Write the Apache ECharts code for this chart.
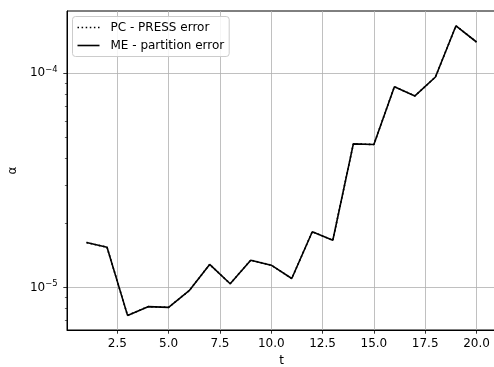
<!DOCTYPE html>
<html>
<head>
<meta charset="utf-8">
<script src="https://cdn.jsdelivr.net/npm/echarts@6/dist/echarts.min.js"></script>
<style>html,body{margin:0;padding:0;background:#fff}#c{width:494px;height:367px}</style>
</head>
<body>
<div id="c"></div>
<script>
const tValues = [1,2,3,4,5,6,7,8,9,10,11,12,13,14,15,16,17,18,19,20];
const meValues = [1.62e-5,1.54e-5,7.40e-6,8.13e-6,8.07e-6,9.65e-6,1.28e-5,1.04e-5,1.34e-5,1.27e-5,1.10e-5,1.82e-5,1.66e-5,4.68e-5,4.65e-5,8.66e-5,7.84e-5,9.61e-5,1.667e-4,1.40e-4];
const pcValues = [1.62e-5,1.54e-5,7.40e-6,8.13e-6,8.07e-6,9.65e-6,1.28e-5,1.04e-5,1.34e-5,1.27e-5,1.10e-5,1.82e-5,1.66e-5,4.68e-5,4.65e-5,8.66e-5,7.84e-5,9.61e-5,1.667e-4,1.40e-4];
const xTicks = [2.5,5,7.5,10,12.5,15,17.5,20];
const yMajorTicks = [1e-5,1e-4];
const yMinorTicks = [7e-6,8e-6,9e-6,2e-5,3e-5,4e-5,5e-5,6e-5,7e-5,8e-5,9e-5];
const seriesNames = ['PC - PRESS error','ME - partition error'];

const FONT = 'DejaVu Sans';
const FS = 12;
const chart = echarts.init(document.getElementById('c'), null, {renderer:'canvas'});
const yMin = 6.324e-6, yMax = 1.954e-4;
const yCommon = {type:'log', min:yMin, max:yMax, logBase:10};
const dottedIcon = 'path://M0 0H1.5V1.6H0Z M4.1 0H5.6V1.6H4.1Z M8.2 0H9.7V1.6H8.2Z M12.3 0H13.8V1.6H12.3Z M16.4 0H17.9V1.6H16.4Z M20.5 0H22V1.6H20.5Z';
const solidIcon = 'path://M0 0H22V1.6H0Z';
chart.setOption({
  animation:false,
  backgroundColor:'#fff',
  grid:{left:67, top:11, width:429, height:319, show:true, borderColor:'#000', borderWidth:1, backgroundColor:'transparent', containLabel:false, outerBoundsMode:'none'},
  legend:{
    left:72.5, top:16.5, orient:'vertical',
    backgroundColor:'rgba(255,255,255,0.85)', borderColor:'#cccccc', borderWidth:1, borderRadius:3,
    padding:[5,5,5,5], itemWidth:22, itemHeight:14, itemGap:6,
    textStyle:{fontSize:FS, color:'#000', fontFamily:FONT, padding:[0,0,0,6]},
    data:[{name:seriesNames[0], icon:dottedIcon}, {name:seriesNames[1], icon:solidIcon}]
  },
  xAxis:{
    type:'value', min:0.05, max:20.95,
    name:'t', nameLocation:'middle', nameGap:25,
    nameTextStyle:{fontSize:FS, color:'#000', fontFamily:FONT},
    axisLine:{show:true, onZero:false, lineStyle:{color:'#000', width:1}},
    axisTick:{show:true, length:3.7, customValues:xTicks, lineStyle:{color:'#000', width:0.8}},
    axisLabel:{customValues:xTicks, margin:8, fontSize:FS, color:'#000', fontFamily:FONT,
      formatter:v=>Number(v).toFixed(1)},
    splitLine:{show:true, lineStyle:{color:'#b0b0b0', width:0.8}}
  },
  yAxis:[
    Object.assign({}, yCommon, {
      name:'α', nameLocation:'middle', nameGap:40, nameRotate:90,
      nameTextStyle:{fontSize:FS, color:'#000', fontFamily:FONT},
      axisLine:{show:true, lineStyle:{color:'#000', width:1}},
      axisTick:{show:true, length:3.7, customValues:yMajorTicks, lineStyle:{color:'#000', width:0.8}},
      axisLabel:{customValues:yMajorTicks, margin:9.5, color:'#000', fontFamily:FONT,
        formatter:v=>'{a|10}{b|−'+Math.abs(Math.round(Math.log10(v)))+'}',
        rich:{a:{fontSize:FS, fontFamily:FONT, color:'#000'}, b:{fontSize:8.4, fontFamily:FONT, color:'#000', padding:[0,0,7,0]}}},
      splitLine:{show:true, lineStyle:{color:'#b0b0b0', width:0.8}}
    }),
    Object.assign({}, yCommon, {
      position:'left',
      axisLine:{show:false},
      axisTick:{show:true, length:2.1, customValues:yMinorTicks, lineStyle:{color:'#000', width:0.6}},
      axisLabel:{show:false},
      splitLine:{show:false}
    })
  ],
  series:[
    {name:seriesNames[0], type:'line', yAxisIndex:0, symbol:'none', color:'#000',
      lineStyle:{color:'#000', width:1.6, type:[1.6,2.6]},
      data:tValues.map((t,i)=>[t,pcValues[i]])},
    {name:seriesNames[1], type:'line', yAxisIndex:0, symbol:'none', color:'#000',
      lineStyle:{color:'#000', width:1.6, type:'solid'},
      data:tValues.map((t,i)=>[t,meValues[i]])}
  ]
});
</script>
</body>
</html>
